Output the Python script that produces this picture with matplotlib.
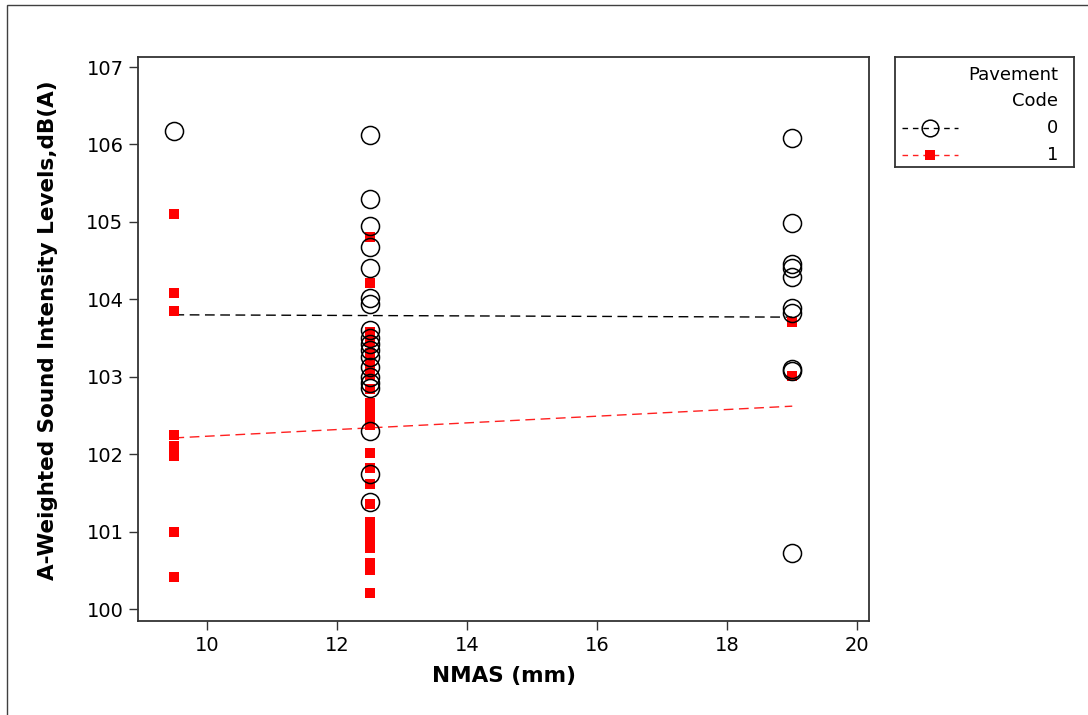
import matplotlib
matplotlib.use("Agg")
import matplotlib.pyplot as plt
from matplotlib.patches import Rectangle

plt.rcParams['font.family'] = ['DejaVu Sans']

# ---- data ----
nmas_levels = [9.5, 12.5, 19.0]

code0_x = [9.5] + [12.5] * 19 + [19.0] * 10
code0_y = [106.17,
           106.12, 105.29, 104.95, 104.67, 104.41, 104.02, 103.94, 103.60, 103.50,
           103.42, 103.35, 103.26, 103.13, 103.00, 102.92, 102.86, 102.30, 101.75, 101.38,
           106.08, 104.98, 104.46, 104.41, 104.29, 103.89, 103.82, 103.10, 103.07, 100.72]

code1_x = [9.5] * 8 + [12.5] * 23 + [19.0] * 2
code1_y = [105.10, 104.08, 103.85, 102.25, 102.10, 101.97, 101.00, 100.41,
           104.80, 104.21, 103.58, 103.45, 103.31, 103.15, 103.02, 102.84, 102.66, 102.56,
           102.47, 102.38, 102.02, 101.82, 101.62, 101.36, 101.12, 101.00, 100.90, 100.79,
           100.59, 100.50, 100.21,
           103.71, 103.01]

fit_x = [9.5, 19.0]
fit0_y = [103.80, 103.77]
fit1_y = [102.21, 102.62]

x_ticks = [10, 12, 14, 16, 18, 20]
y_ticks = [100, 101, 102, 103, 104, 105, 106, 107]
legend_title = ["Pavement", "Code"]
legend_labels = ["0", "1"]

# ---- figure ----
W, H = 1088, 715
fig = plt.figure(figsize=(W / 100, H / 100), dpi=100)

# outer frame
fig.patches.append(Rectangle((7 / W, -0.1), 1.2, 1 - 5 / H + 0.1, transform=fig.transFigure,
                             fill=False, edgecolor='#404040', linewidth=1.0))

spine_c = '#333333'
ax = fig.add_axes([138 / W, 1 - 621 / H, (869 - 138) / W, (621 - 57) / H])
ax.set_xlim(8.94, 20.18)
ax.set_ylim(99.845, 107.13)

ax.plot(fit_x, fit0_y, color='black', lw=1.0, dashes=(7, 4), zorder=2)
ax.plot(fit_x, fit1_y, color='#ff2020', lw=1.0, dashes=(7, 4), zorder=2)

ax.plot(code1_x, code1_y, linestyle='none', marker='s', markersize=7.8,
        markerfacecolor='#ff0000', markeredgecolor='#ff0000', markeredgewidth=0, zorder=3)
ax.plot(code0_x, code0_y, linestyle='none', marker='o', markersize=13,
        markerfacecolor='none', markeredgecolor='black', markeredgewidth=1.1, zorder=4)

ax.set_xticks(x_ticks)
ax.set_yticks(y_ticks)
ax.tick_params(direction='out', length=6.5, width=1.0, color=spine_c, labelsize=14, pad=4)
for s in ax.spines.values():
    s.set_color(spine_c)
    s.set_linewidth(1.3)

ax.set_xlabel("NMAS (mm)", fontsize=15.5, fontweight='bold', labelpad=8)
ax.set_ylabel("A-Weighted Sound Intensity Levels,dB(A)", fontsize=15.5, fontweight='bold')
ax.yaxis.set_label_coords(-0.110, 0.515)

# ---- legend (manual, right-aligned like Minitab) ----
lax = fig.add_axes([895 / W, 1 - 167 / H, (1074 - 895) / W, (167 - 57) / H])
lax.set_xlim(895, 1074)
lax.set_ylim(167, 57)
lax.set_xticks([])
lax.set_yticks([])
for s in lax.spines.values():
    s.set_color(spine_c)
    s.set_linewidth(1.3)
lax.text(1058, 75, legend_title[0], ha='right', va='center', fontsize=13)
lax.text(1058, 101, legend_title[1], ha='right', va='center', fontsize=13)
lax.plot([902, 958], [128, 128], color='black', lw=1.0, dashes=(4, 3.5))
lax.plot([930], [128], marker='o', markersize=12, markerfacecolor='none',
         markeredgecolor='black', markeredgewidth=1.1, linestyle='none')
lax.text(1058, 128, legend_labels[0], ha='right', va='center', fontsize=13)
lax.plot([902, 958], [155, 155], color='#ff2020', lw=1.0, dashes=(4, 3.5))
lax.plot([930], [155], marker='s', markersize=7.8, markerfacecolor='#ff0000',
         markeredgewidth=0, linestyle='none')
lax.text(1058, 155, legend_labels[1], ha='right', va='center', fontsize=13)

fig.savefig("out.png", dpi=100)
